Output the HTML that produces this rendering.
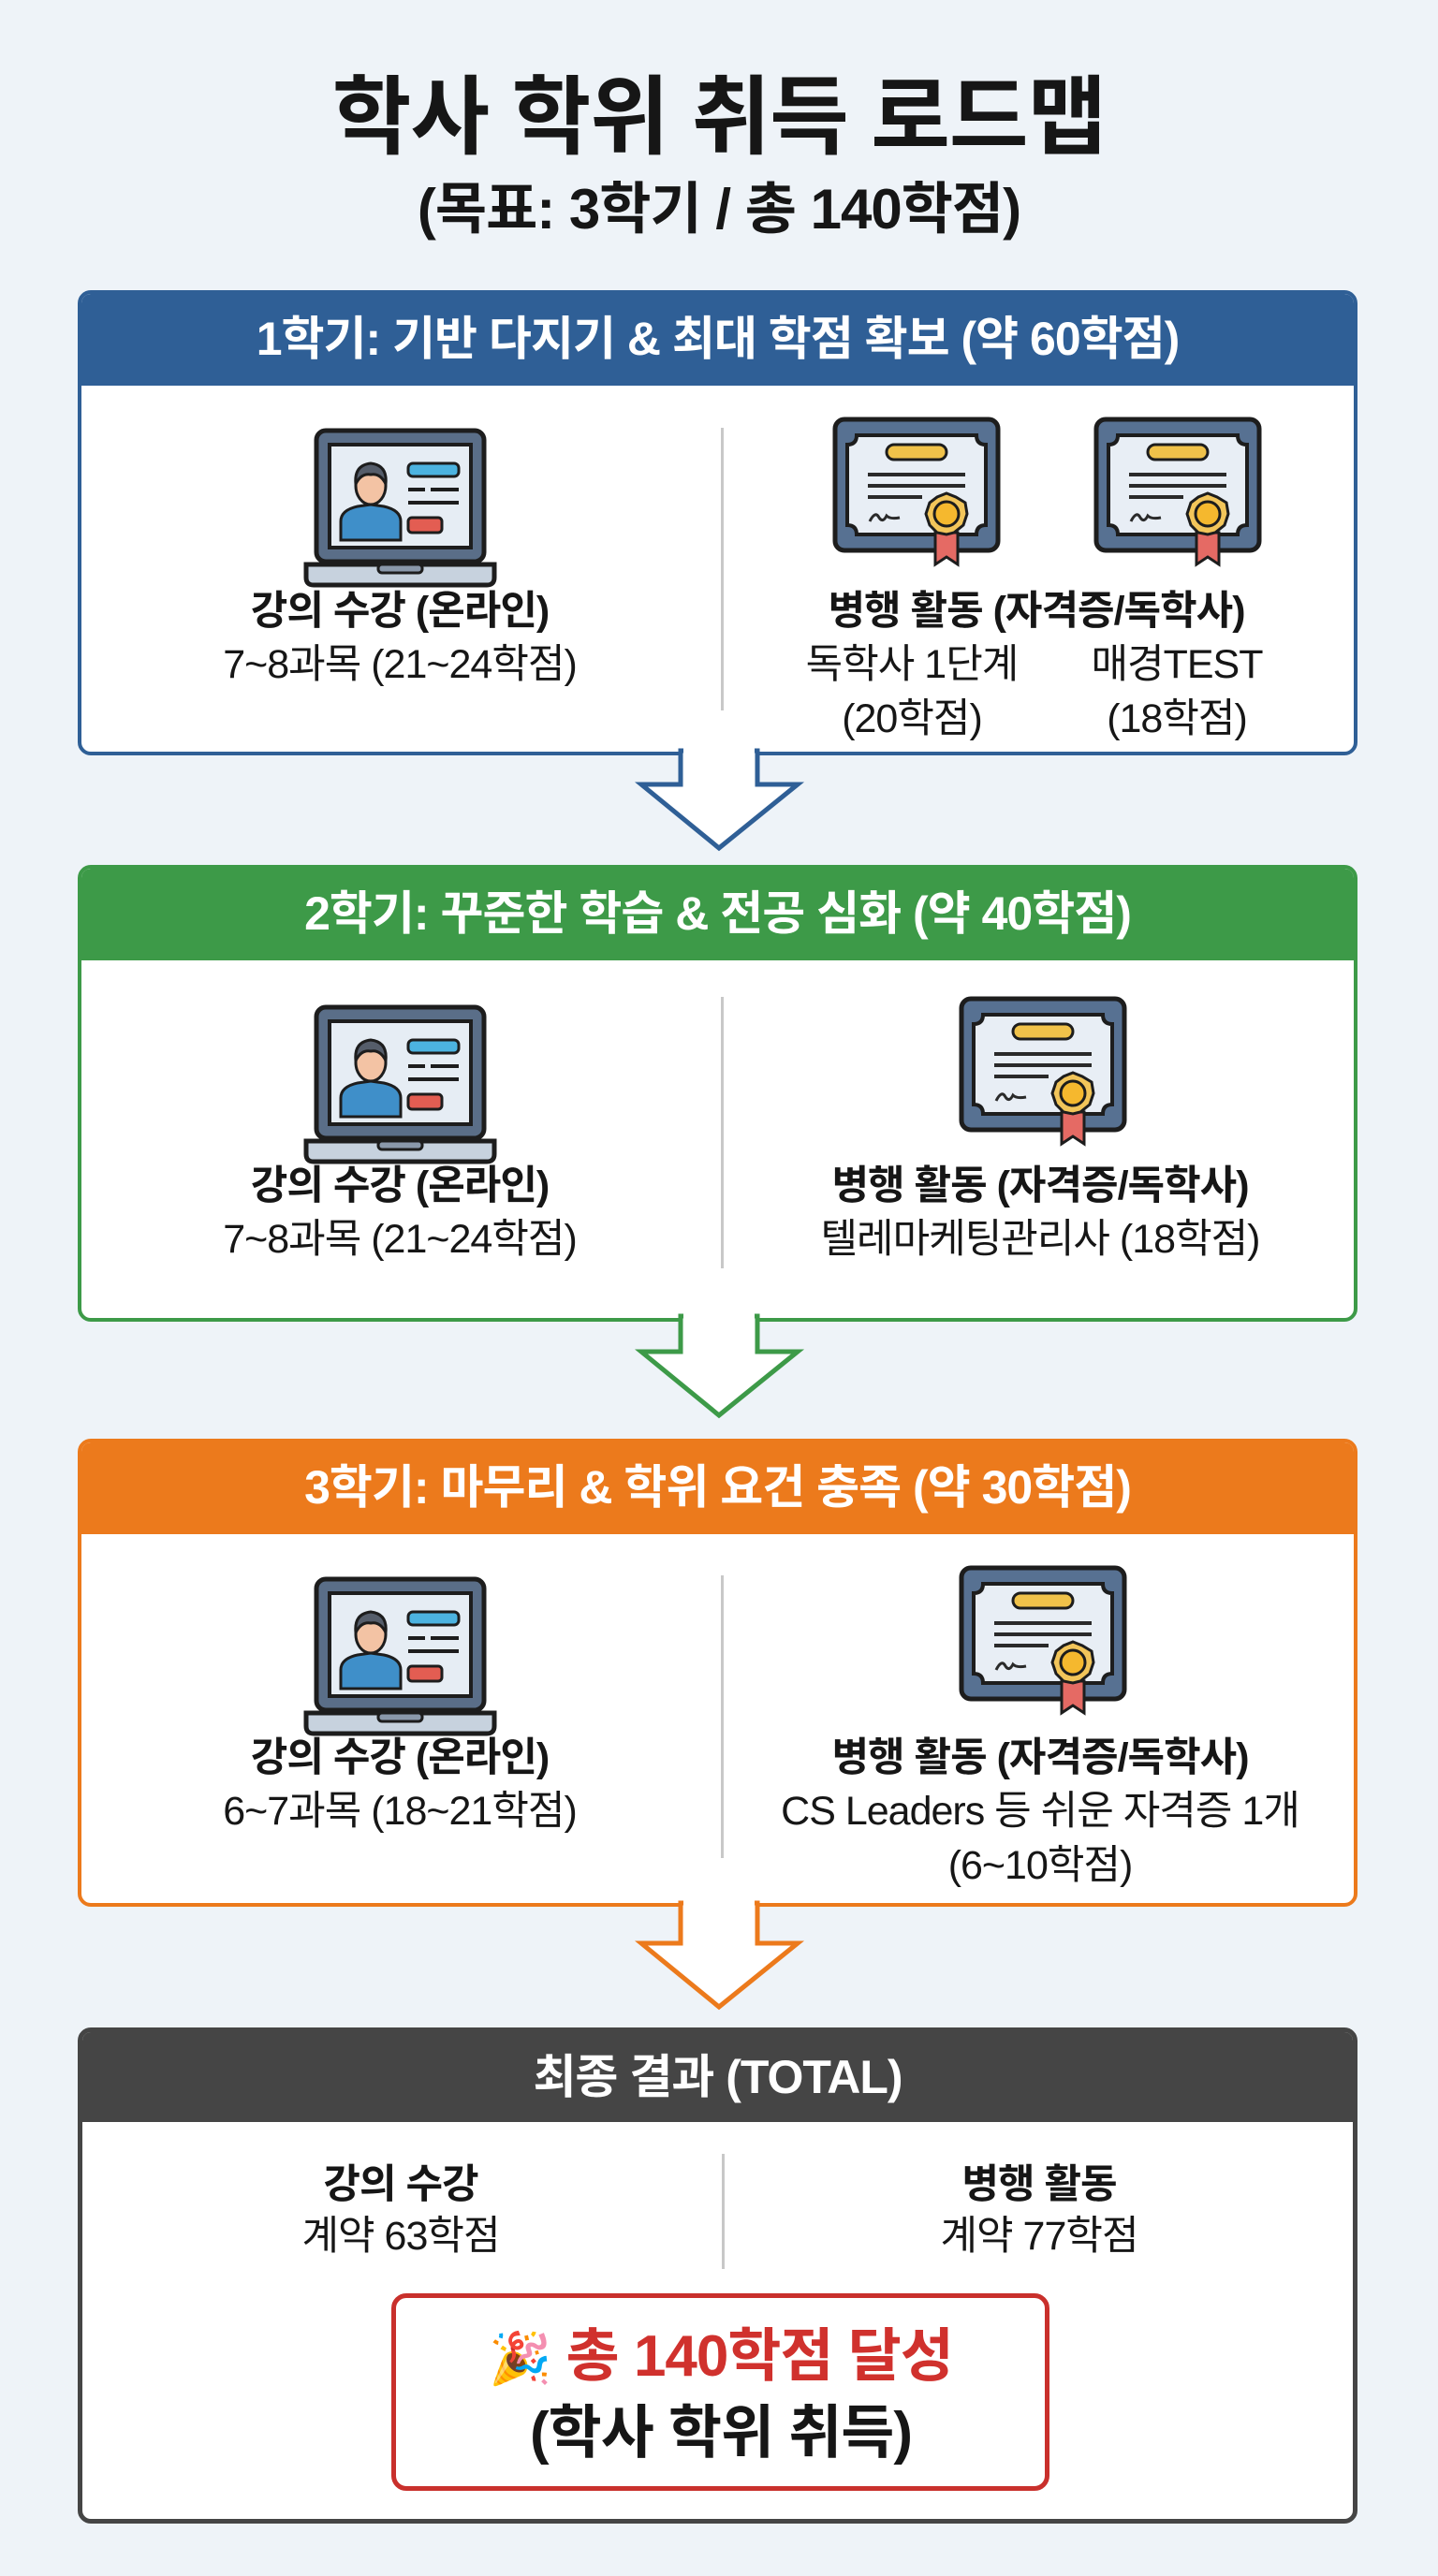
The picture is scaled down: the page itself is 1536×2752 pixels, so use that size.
<!DOCTYPE html>
<html><head><meta charset="utf-8">
<style>
*{margin:0;padding:0;box-sizing:border-box}
body{width:1536px;height:2752px;background:#eef3f8;position:relative;overflow:hidden;font-family:"Liberation Sans","Noto Sans CJK KR",sans-serif;color:#161616}
.t{position:absolute;left:0;width:1536px;text-align:center;font-weight:bold;white-space:nowrap}
.box{position:absolute;left:83px;width:1367px;border:4px solid;border-radius:14px;background:#fff;overflow:hidden}
.hd{height:98px;color:#fff;font-weight:bold;font-size:50px;text-align:center;line-height:96px;white-space:nowrap;letter-spacing:-1px}
.tx{position:absolute;text-align:center;white-space:nowrap;font-size:43px;line-height:57px;letter-spacing:-1px;transform:translateX(-50%)}
.b{font-weight:bold}
.div{position:absolute;left:683px;width:3px;background:#c8c8c8}
svg.a{position:absolute;left:0;top:0}
.ic{position:absolute}
</style></head><body>
<svg width="0" height="0" style="position:absolute">
<defs>
<symbol id="lap" viewBox="0 0 207 172">
<rect x="14" y="3" width="179" height="140" rx="10" fill="#5a6e88" stroke="#1d1d1d" stroke-width="5"/>
<rect x="28" y="18" width="151" height="110" fill="#e6edf4" stroke="#1d1d1d" stroke-width="4"/>
<path d="M3 146 H204 V160 Q204 168 196 168 H11 Q3 168 3 160Z" fill="#c7d2de" stroke="#1d1d1d" stroke-width="5"/>
<rect x="80" y="146" width="47" height="9" rx="4" fill="#8a98aa" stroke="#1d1d1d" stroke-width="3"/>
<path d="M40 120 V100 Q40 88 58 84 L72 82 L86 84 Q104 88 104 100 V120Z" fill="#3f8fc9" stroke="#1d1d1d" stroke-width="3"/>
<ellipse cx="72" cy="62" rx="16" ry="20" fill="#f3c3a4" stroke="#1d1d1d" stroke-width="3"/>
<path d="M56 60 Q54 40 72 38 Q90 40 88 60 Q82 48 72 50 Q62 48 56 60Z" fill="#555d6a" stroke="#1d1d1d" stroke-width="3"/>
<rect x="112" y="38" width="54" height="14" rx="5" fill="#4cb3e0" stroke="#1d1d1d" stroke-width="3"/>
<line x1="112" y1="66" x2="130" y2="66" stroke="#1d1d1d" stroke-width="4"/>
<line x1="136" y1="66" x2="166" y2="66" stroke="#1d1d1d" stroke-width="4"/>
<line x1="112" y1="80" x2="166" y2="80" stroke="#1d1d1d" stroke-width="4"/>
<rect x="112" y="96" width="36" height="16" rx="4" fill="#e35d52" stroke="#1d1d1d" stroke-width="3"/>
</symbol>
<symbol id="cert" viewBox="0 0 180 162">
<rect x="3" y="3" width="174" height="140" rx="10" fill="#577192" stroke="#1d1d1d" stroke-width="5"/>
<path d="M26 20 H154 Q154 30 164 30 V116 Q154 116 154 126 H26 Q26 116 16 116 V30 Q26 30 26 20Z" fill="#e8eef5" stroke="#1d1d1d" stroke-width="4"/>
<rect x="58" y="30" width="64" height="16" rx="8" fill="#f0c24a" stroke="#1d1d1d" stroke-width="3"/>
<line x1="38" y1="62" x2="142" y2="62" stroke="#2a2a2a" stroke-width="4"/>
<line x1="38" y1="74" x2="142" y2="74" stroke="#2a2a2a" stroke-width="4"/>
<line x1="38" y1="86" x2="96" y2="86" stroke="#2a2a2a" stroke-width="4"/>
<path d="M40 112 Q46 100 50 108 Q54 114 58 106 Q62 110 72 108" fill="none" stroke="#2a2a2a" stroke-width="3"/>
<path d="M110 124 V158 L122 150 L134 158 V124Z" fill="#e56a64" stroke="#1d1d1d" stroke-width="3"/>
<polygon points="122,82 132,86 142,92 144,104 140,116 130,124 122,126 112,124 104,116 100,104 104,92 112,86" fill="#f2c55a" stroke="#1d1d1d" stroke-width="3"/>
<circle cx="122" cy="104" r="13" fill="#f5b82e" stroke="#1d1d1d" stroke-width="3"/>
</symbol>
</defs>
</svg>

<div class="t" style="top:68px;font-size:92px;line-height:116px;letter-spacing:-1px">학사 학위 취득 로드맵</div>
<div class="t" style="top:188px;font-size:60px;line-height:72px;letter-spacing:-1px">(목표: 3학기 / 총 140학점)</div>

<!-- Box 1 -->
<div class="box" style="top:310px;height:497px;border-color:#2f5f96">
  <div class="hd" style="background:#2f5f96">1학기: 기반 다지기 &amp; 최대 학점 확보 (약 60학점)</div>
  <div class="div" style="top:143px;height:302px"></div>
  <svg class="ic" style="left:237px;top:143px" width="207" height="172"><use href="#lap"/></svg>
  <svg class="ic" style="left:802px;top:131px" width="180" height="162"><use href="#cert"/></svg>
  <svg class="ic" style="left:1081px;top:131px" width="180" height="162"><use href="#cert"/></svg>
  <div class="tx b" style="left:340px;top:311px">강의 수강 (온라인)</div>
  <div class="tx" style="left:340px;top:368px">7~8과목 (21~24학점)</div>
  <div class="tx b" style="left:1020px;top:311px">병행 활동 (자격증/독학사)</div>
  <div class="tx" style="left:887px;top:368px">독학사 1단계</div>
  <div class="tx" style="left:1170px;top:368px">매경TEST</div>
  <div class="tx" style="left:887px;top:426px">(20학점)</div>
  <div class="tx" style="left:1170px;top:426px">(18학점)</div>
</div>
<svg class="a" width="1536" height="2752" style="z-index:2;pointer-events:none">
  <polygon points="727,802 727,838 685,838 768,906 852,838 809,838 809,802" fill="#fff" stroke="#2f5f96" stroke-width="5" stroke-linejoin="miter"/>
  <rect x="730" y="798" width="76" height="12" fill="#fff"/>
</svg>

<!-- Box 2 -->
<div class="box" style="top:924px;height:488px;border-color:#3d9a48">
  <div class="hd" style="background:#3d9a48">2학기: 꾸준한 학습 &amp; 전공 심화 (약 40학점)</div>
  <div class="div" style="top:137px;height:290px"></div>
  <svg class="ic" style="left:237px;top:145px" width="207" height="172"><use href="#lap"/></svg>
  <svg class="ic" style="left:937px;top:136px" width="180" height="162"><use href="#cert"/></svg>
  <div class="tx b" style="left:340px;top:311px">강의 수강 (온라인)</div>
  <div class="tx" style="left:340px;top:368px">7~8과목 (21~24학점)</div>
  <div class="tx b" style="left:1024px;top:311px">병행 활동 (자격증/독학사)</div>
  <div class="tx" style="left:1024px;top:368px">텔레마케팅관리사 (18학점)</div>
</div>
<svg class="a" width="1536" height="2752" style="z-index:2;pointer-events:none">
  <polygon points="727,1406 727,1444 685,1444 768,1512 852,1444 809,1444 809,1406" fill="#fff" stroke="#3d9a48" stroke-width="5"/>
  <rect x="730" y="1402" width="76" height="12" fill="#fff"/>
</svg>

<!-- Box 3 -->
<div class="box" style="top:1537px;height:500px;border-color:#ec7a1c">
  <div class="hd" style="background:#ec7a1c">3학기: 마무리 &amp; 학위 요건 충족 (약 30학점)</div>
  <div class="div" style="top:142px;height:302px"></div>
  <svg class="ic" style="left:237px;top:143px" width="207" height="172"><use href="#lap"/></svg>
  <svg class="ic" style="left:937px;top:131px" width="180" height="162"><use href="#cert"/></svg>
  <div class="tx b" style="left:340px;top:309px">강의 수강 (온라인)</div>
  <div class="tx" style="left:340px;top:366px">6~7과목 (18~21학점)</div>
  <div class="tx b" style="left:1024px;top:309px">병행 활동 (자격증/독학사)</div>
  <div class="tx" style="left:1024px;top:366px">CS Leaders 등 쉬운 자격증 1개</div>
  <div class="tx" style="left:1024px;top:424px">(6~10학점)</div>
</div>
<svg class="a" width="1536" height="2752" style="z-index:2;pointer-events:none">
  <polygon points="727,2033 727,2076 685,2076 768,2144 852,2076 809,2076 809,2033" fill="#fff" stroke="#ec7a1c" stroke-width="5"/>
  <rect x="730" y="2029" width="76" height="12" fill="#fff"/>
</svg>

<!-- Box 4 -->
<div class="box" style="top:2166px;height:530px;border-color:#454545;border-width:5px">
  <div class="hd" style="background:#454545;height:96px">최종 결과 (TOTAL)</div>
  <div class="div" style="top:130px;height:123px"></div>
  <div class="tx b" style="left:340px;top:135px">강의 수강</div>
  <div class="tx" style="left:340px;top:190px">계약 63학점</div>
  <div class="tx b" style="left:1022px;top:135px">병행 활동</div>
  <div class="tx" style="left:1022px;top:190px">계약 77학점</div>
  <div style="position:absolute;left:330px;top:279px;width:703px;height:211px;border:5px solid #c9302c;border-radius:16px;background:#fff"></div>
  <div class="tx b" style="left:682px;top:310px;font-size:62px;line-height:74px;color:#d0312d"><span style="font-family:'DejaVu Sans',sans-serif;font-size:54px">🎉</span> 총 140학점 달성</div>
  <div class="tx b" style="left:682px;top:392px;font-size:62px;line-height:74px">(학사 학위 취득)</div>
</div>
</body></html>
